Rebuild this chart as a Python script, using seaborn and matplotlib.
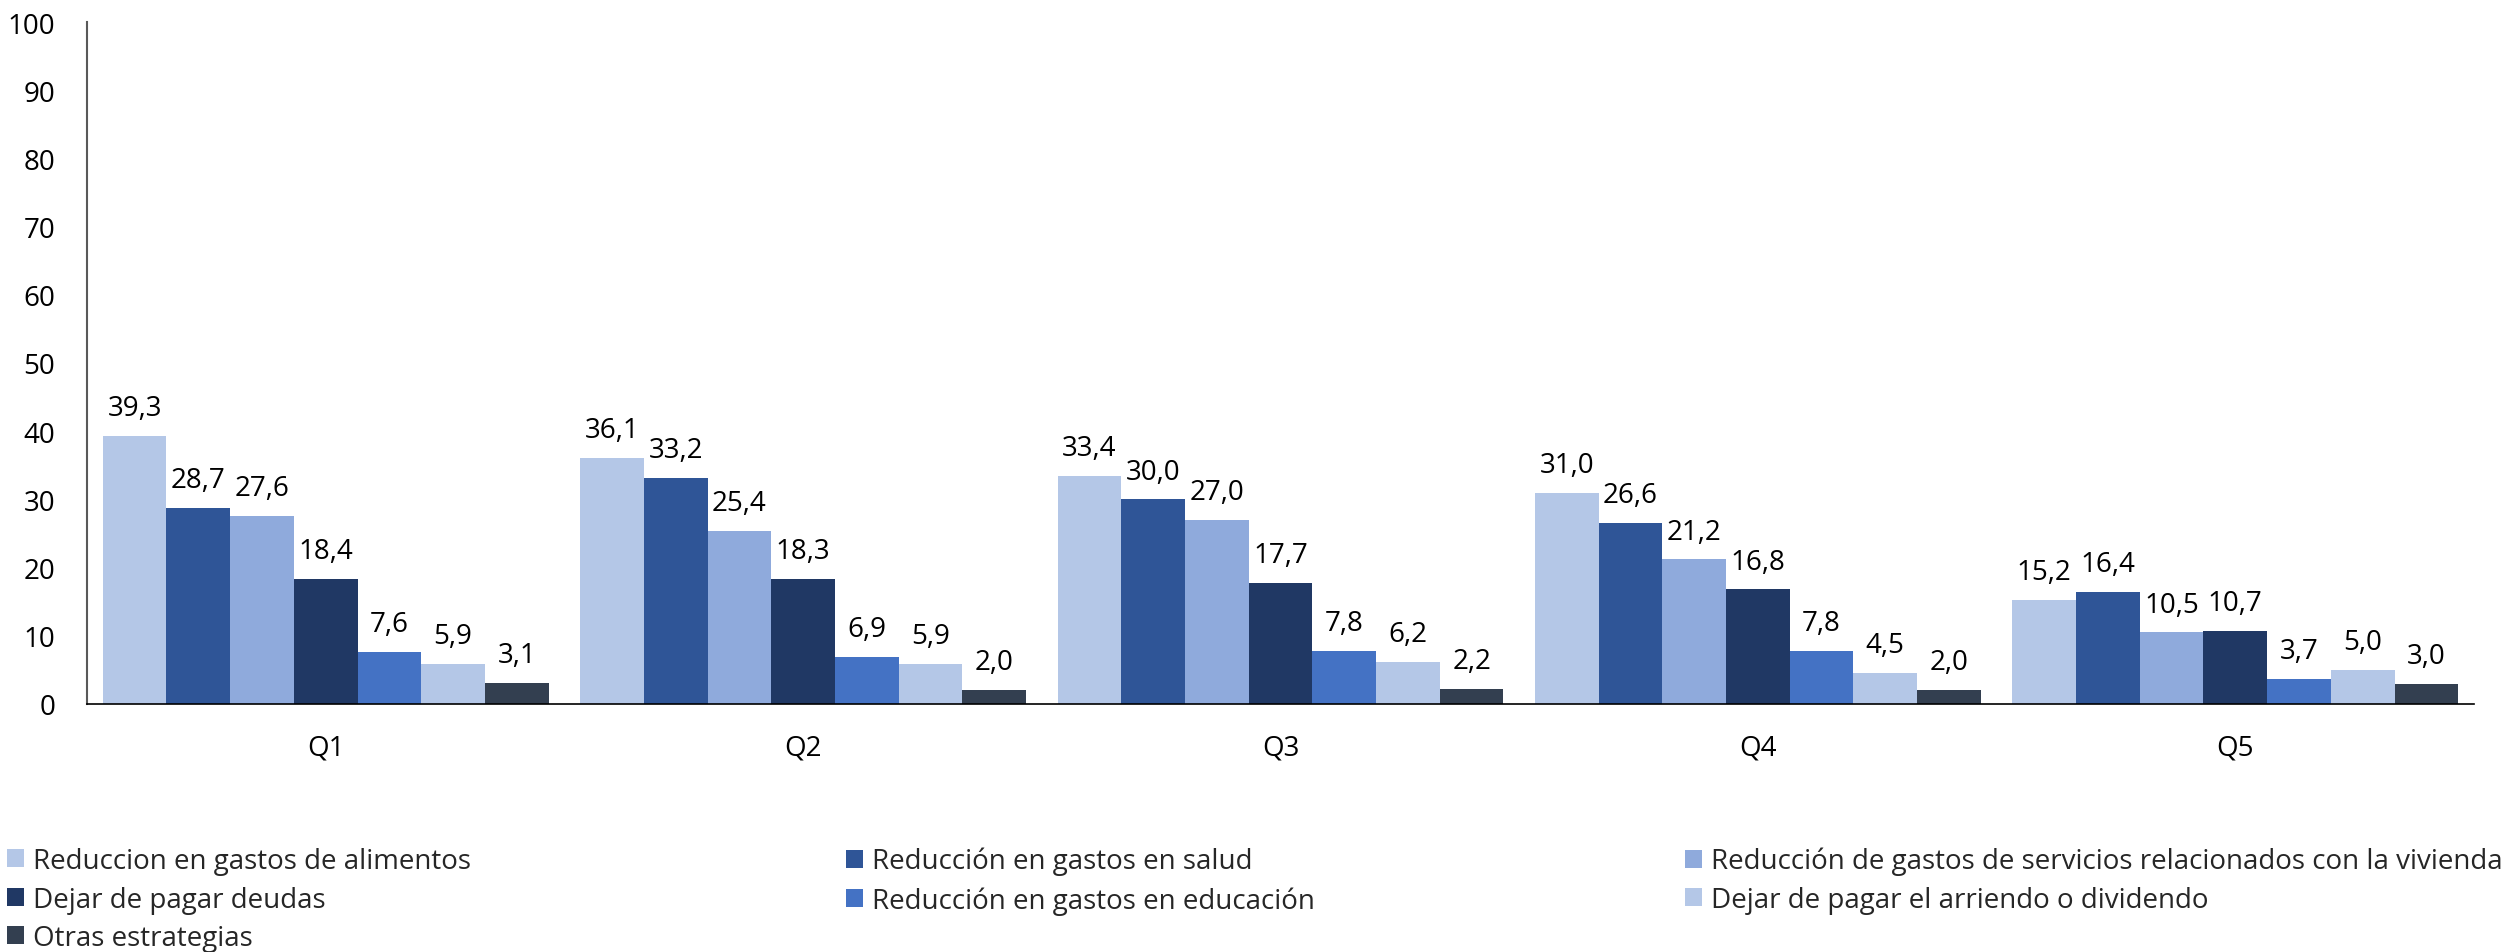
import matplotlib
matplotlib.use("Agg")
import matplotlib.pyplot as plt
import seaborn as sns
import pandas as pd
from matplotlib.patches import Patch
from matplotlib import font_manager

quintiles = ["Q1", "Q2", "Q3", "Q4", "Q5"]
series = [
    "Reduccion en gastos de alimentos",
    "Reducción en gastos en salud",
    "Reducción de gastos de servicios relacionados con la vivienda",
    "Dejar de pagar deudas",
    "Reducción en gastos en educación",
    "Dejar de pagar el arriendo o dividendo",
    "Otras estrategias",
]
alimentos = [39.3, 36.1, 33.4, 31.0, 15.2]
salud = [28.7, 33.2, 30.0, 26.6, 16.4]
vivienda = [27.6, 25.4, 27.0, 21.2, 10.5]
deudas = [18.4, 18.3, 17.7, 16.8, 10.7]
educacion = [7.6, 6.9, 7.8, 7.8, 3.7]
arriendo = [5.9, 5.9, 6.2, 4.5, 5.0]
otras = [3.1, 2.0, 2.2, 2.0, 3.0]
colors = ["#B4C7E7", "#2F5597", "#8FAADC", "#203864", "#4472C4", "#B4C7E7", "#333F50"]

values = [alimentos, salud, vivienda, deudas, educacion, arriendo, otras]
rows = []
for s, vals in zip(series, values):
    for q, v in zip(quintiles, vals):
        rows.append({"quintil": q, "serie": s, "valor": v})
df = pd.DataFrame(rows)

sns.set_theme(style="white")
avail = {f.name for f in font_manager.fontManager.ttflist}
num_font = "Open Sans" if "Open Sans" in avail else "DejaVu Sans"
leg_font = "Liberation Sans Narrow" if "Liberation Sans Narrow" in avail else num_font
plt.rcParams["font.family"] = [num_font, "DejaVu Sans"]

fig = plt.figure(figsize=(25.12, 9.53), dpi=100)
ax = fig.add_axes([87 / 2512, 1 - 705 / 953, (2474 - 87) / 2512, (705 - 23) / 953])

palette = dict(zip(series, colors))
sns.barplot(data=df, x="quintil", y="valor", hue="serie", hue_order=series,
            order=quintiles, palette=palette, width=0.934, gap=0, saturation=1,
            linewidth=0, ax=ax, legend=True)

for cont in ax.containers:
    labs = [f"{b.get_height():.1f}".replace(".", ",") for b in cont]
    ax.bar_label(cont, labels=labs, padding=10, fontsize=20, color="black",
                 family=num_font)

ax.set_ylim(0, 100)
ax.set_yticks(range(0, 101, 10))
ax.set_xlim(-0.5, 4.5)
ax.set_xlabel("")
ax.set_ylabel("")
ax.tick_params(axis="y", length=0, pad=23, labelsize=20, labelcolor="black")
ax.tick_params(axis="x", length=0, pad=21, labelsize=20, labelcolor="black")
for lab in ax.get_xticklabels() + ax.get_yticklabels():
    lab.set_family(num_font)
for s in ["top", "right"]:
    ax.spines[s].set_visible(False)
ax.spines["left"].set_color("#595959")
ax.spines["left"].set_linewidth(1.5)
ax.spines["bottom"].set_color("black")
ax.spines["bottom"].set_linewidth(1.2)
ax.legend_.remove()

handles = [Patch(facecolor=c, edgecolor="none") for c in colors]
cols = [[0, 3, 6], [1, 4], [2, 5]]
xs = [7, 846, 1685]
for idxs, x0 in zip(cols, xs):
    fig.legend([handles[i] for i in idxs], [series[i] for i in idxs],
               loc="upper left", bbox_to_anchor=(x0 / 2512, 1 - 848 / 953),
               frameon=False, borderpad=0, borderaxespad=0,
               handlelength=0.62, handleheight=0.62, handletextpad=0.3,
               labelspacing=0.38,
               prop={"family": leg_font, "size": 20})

fig.savefig("out.png", dpi=100)
